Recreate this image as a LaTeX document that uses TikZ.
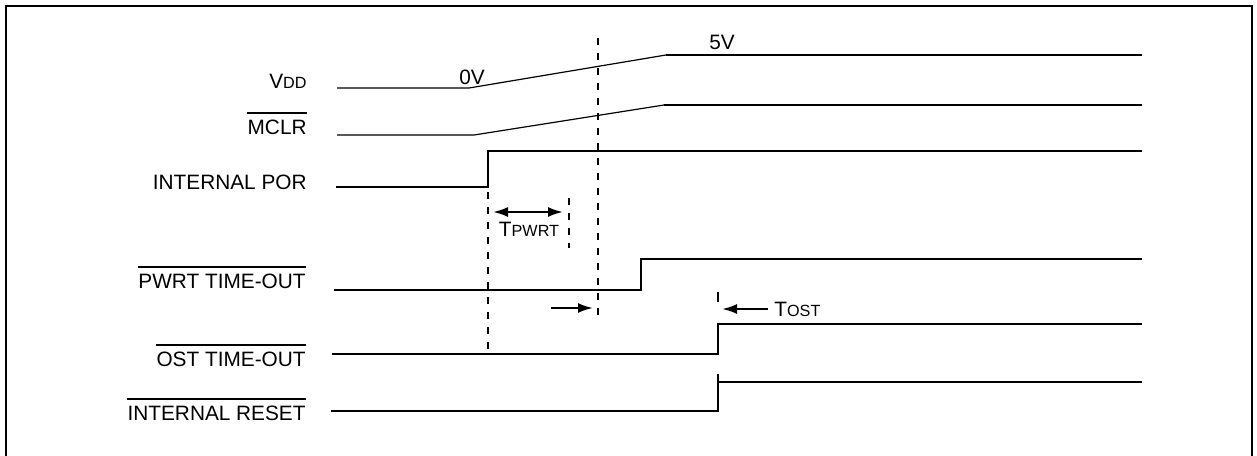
\documentclass[tikz,border=0pt]{standalone}
\usepackage{fontspec}
\setmainfont{Liberation Sans}
\usetikzlibrary{arrows.meta}
\newcommand{\smc}[1]{{\fontsize{8.1}{9}\selectfont #1}}
\begin{document}
\begin{tikzpicture}[x=0.5pt,y=-0.5pt,
  font=\fontsize{10.4}{12}\selectfont,
  thinsig/.style={line width=0.6pt},
  sig/.style={line width=1pt},
  guide/.style={line width=1.2pt,dash pattern=on 3.5pt off 4pt},
  lbl/.style={anchor=base east,inner sep=0pt},
  txt/.style={inner sep=0pt},
  ovl/.style={line width=0.8pt},
  tip/.style={Latex[length=7.5pt,width=5pt]},
  arr/.style={line width=1.1pt,-{Latex[length=7.5pt,width=5pt]}},
  darr/.style={line width=1.1pt,{Latex[length=7.5pt,width=5pt]}-{Latex[length=7.5pt,width=5pt]}}]
\clip (0,0) rectangle (1257,455);
\draw[line width=1.4pt] (6,6) rectangle (1252,490);

% signal labels
\node[lbl] (vdd)   at (307,88)  {V\smc{DD}};
\node[lbl] (mclr)  at (307,134) {MCLR};
\node[lbl] (por)   at (307,189) {INTERNAL POR};
\node[lbl] (pwrt)  at (306,288) {PWRT TIME-OUT};
\node[lbl] (ost)   at (306,366) {OST TIME-OUT};
\node[lbl] (rst)   at (306,420) {INTERNAL RESET};
\foreach \n in {mclr,pwrt,ost,rst}
  \draw[ovl] ([yshift=3pt]\n.north west) -- ([yshift=3pt]\n.north east);

% level labels
\node[txt] (zv)   at (472,77)  {0V};
\node[txt] (fv)   at (722,42)  {5V};
\node[txt] (tpw)  at (529,229) {T\smc{PWRT}};
\node[txt,anchor=west] (tost) at (774,309) {T\smc{OST}};

% waveforms
\draw[thinsig] (337,88) -- (469,88) -- (666,55);
\draw[sig] (666,55) -- (1142,55);
\draw[thinsig] (337,135) -- (474,135) -- (664,105);
\draw[sig] (664,105) -- (1142,105);
\draw[sig] (336,187) -- (488,187) -- (488,151) -- (1142,151);
\draw[sig] (334,290) -- (641,290) -- (641,259) -- (1142,259);
\draw[sig] (332,354) -- (718,354) -- (718,324) -- (1142,324);
\draw[sig] (331,411) -- (718,411) -- (718,374);
\draw[sig] (718,382) -- (1142,382);

% guides
\coordinate (g1a) at (488,192); \coordinate (g1b) at (488,350);
\coordinate (g2a) at (598,38);  \coordinate (g2b) at (598,322);
\coordinate (g3a) at (569,198); \coordinate (g3b) at (569,248);
\draw[guide] (g1a) -- (g1b);
\draw[guide] (g2a) -- (g2b);
\draw[guide] (g3a) -- (g3b);
\coordinate (t1) at (718,292); \coordinate (t2) at (718,302);
\draw[line width=1.2pt] (t1) -- (t2);

% arrows
\coordinate (pa) at (493,212); \coordinate (pb) at (563,212);
\draw[darr] (pa) -- (pb);
\coordinate (qa) at (551,308); \coordinate (qb) at (593,308);
\draw[arr] (qa) -- (qb);
\coordinate (ra) at (722,309);
\draw[arr] (tost.west) ++(-6,0) -- (ra);
\end{tikzpicture}
\end{document}
